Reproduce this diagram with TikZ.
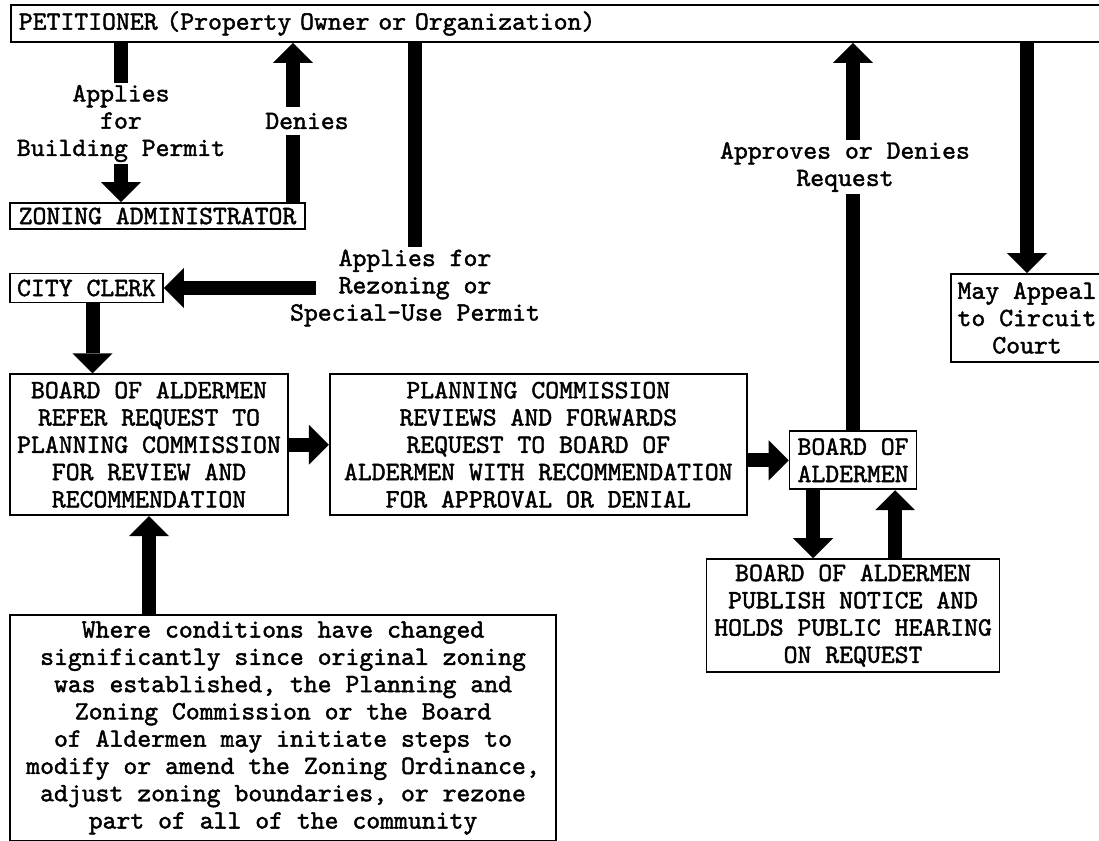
\documentclass[tikz,border=0pt]{standalone}
\usepackage{fontspec}
\newfontfamily\typewr{lmmono10-regular.otf}[FakeBold=1.6]
\usepackage{tikz}
\usetikzlibrary{arrows.meta}
\usetikzlibrary{positioning}
\tikzset{
    block/.style={
           rectangle,
           draw=black, line width=1.2pt,
           inner xsep=0.1cm, inner ysep=0.05cm,
           align=center,
           font=\typewr\fontsize{18.8pt}{19.4pt}\selectfont,
           },
    frameless/.style={
           %rectangle,
           %draw=black,
           inner sep=0.05cm,
           align=center,
           font=\typewr\fontsize{18.8pt}{19.4pt}\selectfont,
           },
    flow/.style={
           line width=0.35cm,
           -{Triangle[width=1cm,length=0.5cm,line width=0pt]},
           },
    shaft/.style={
           line width=0.35cm,
           },
}

\begin{document}
\begin{tikzpicture}[x=0.025cm,y=-0.025cm]
	\useasboundingbox (0,0) rectangle (1099,841);
	\clip (0,0) rectangle (1099,841);

	\node[block, anchor=west, inner xsep=0.2cm, text width=27.1cm, align=left, minimum height=0.925cm] (pet) at (10,23.5) {PETITIONER (Property Owner or Organization)};
	\node[block, minimum width=7.375cm, minimum height=0.65cm] (zon) at (157.5,216) {ZONING ADMINISTRATOR};
	\node[block, minimum width=3.825cm, minimum height=0.725cm] (clerk) at (86.5,288) {CITY CLERK};
	\node[block, below right=1.75cm and 0cm of clerk.south west, minimum width=6.95cm, minimum height=3.525cm] (refer)	{BOARD OF ALDERMEN\\
										REFER REQUEST TO\\
										PLANNING COMMISSION\\
										FOR REVIEW AND\\
										RECOMMENDATION};
	\node[block, right=1cm of refer, minimum width=10.425cm, minimum height=3.525cm] (plan) {PLANNING COMMISSION\\
										REVIEWS AND FORWARDS\\
										REQUEST TO BOARD OF\\
										ALDERMEN WITH RECOMMENDATION\\
										FOR APPROVAL OR DENIAL};
	\node[block, right=1.025cm of plan, yshift=-0.39cm, minimum width=3.175cm, minimum height=1.45cm] (board) {BOARD OF\\ ALDERMEN};
	\node[block, below=1.7cm of board, minimum width=7.325cm, minimum height=2.825cm] (pub) {BOARD OF ALDERMEN\\
										PUBLISH NOTICE AND\\
										HOLDS PUBLIC HEARING\\
										ON REQUEST};
	\node[block, minimum width=3.8cm, minimum height=2.2cm] (appeal) at (1027,318) {May Appeal\\ to Circuit\\ Court};
	\node[block, below right=2.45cm and 0cm of refer.south west, minimum width=13.65cm, minimum height=5.65cm] (where) {Where conditions have changed\\
										significantly since original zoning\\
										was established, the Planning and\\
										Zoning Commission or the Board\\
										of Aldermen may initiate steps to\\
										modify or amend the Zoning Ordinance,\\
										adjust zoning boundaries, or rezone\\
										part of all of the community};

	%labels on the arrows
	\node[frameless] (bplbl) at (121,123.5) {Applies\\ for\\ Building Permit};
	\node[frameless, minimum height=0.7cm] (denies) at (307,121) {Denies};
	\node[frameless] (rezone) at (415,288) {Applies for\\ Rezoning or\\ Special-Use Permit};
	\node[frameless] (apprv) at (845,167) {Approves or Denies\\ Request};

	%EDGES
	\path[shaft]	(bplbl.north |- pet.south) edge (bplbl.north);
	\path[flow]	(bplbl.south) edge (bplbl.south |- zon.north);
	\path[shaft]	([xshift=-0.35cm]denies.south |- zon.north) edge ([xshift=-0.35cm]denies.south);
	\path[flow]	([xshift=-0.35cm]denies.north) edge ([xshift=-0.35cm]denies.north |- pet.south);

	\path[shaft]	(rezone.north |- pet.south) edge (rezone.north);
	\path[flow]	([xshift=0.7cm]rezone.west) edge (clerk.east);
	\path[flow]	([xshift=0.15cm]clerk.south) edge ([xshift=0.15cm]clerk.south |- refer.north);

	\path[flow]	(refer.east) edge (plan.west);
	\path[flow]	(plan.east |- board.west) edge (board.west);
	\path[flow]	(where.north -| refer.south) edge (refer.south);

	\path[shaft]	(board.north) edge (board.north |- apprv.south);
	\path[flow]	(board.north |- apprv.north) edge (board.north |- pet.south);
	\path[flow]	(appeal.north |- pet.south) edge (appeal.north);

	\path[flow]	([xshift=-1cm]board.south) edge ([xshift=-1cm]board.south |- pub.north);
	\path[flow]	([xshift=1.05cm]board.south |- pub.north) edge ([xshift=1.05cm]board.south);
\end{tikzpicture}
\end{document}
